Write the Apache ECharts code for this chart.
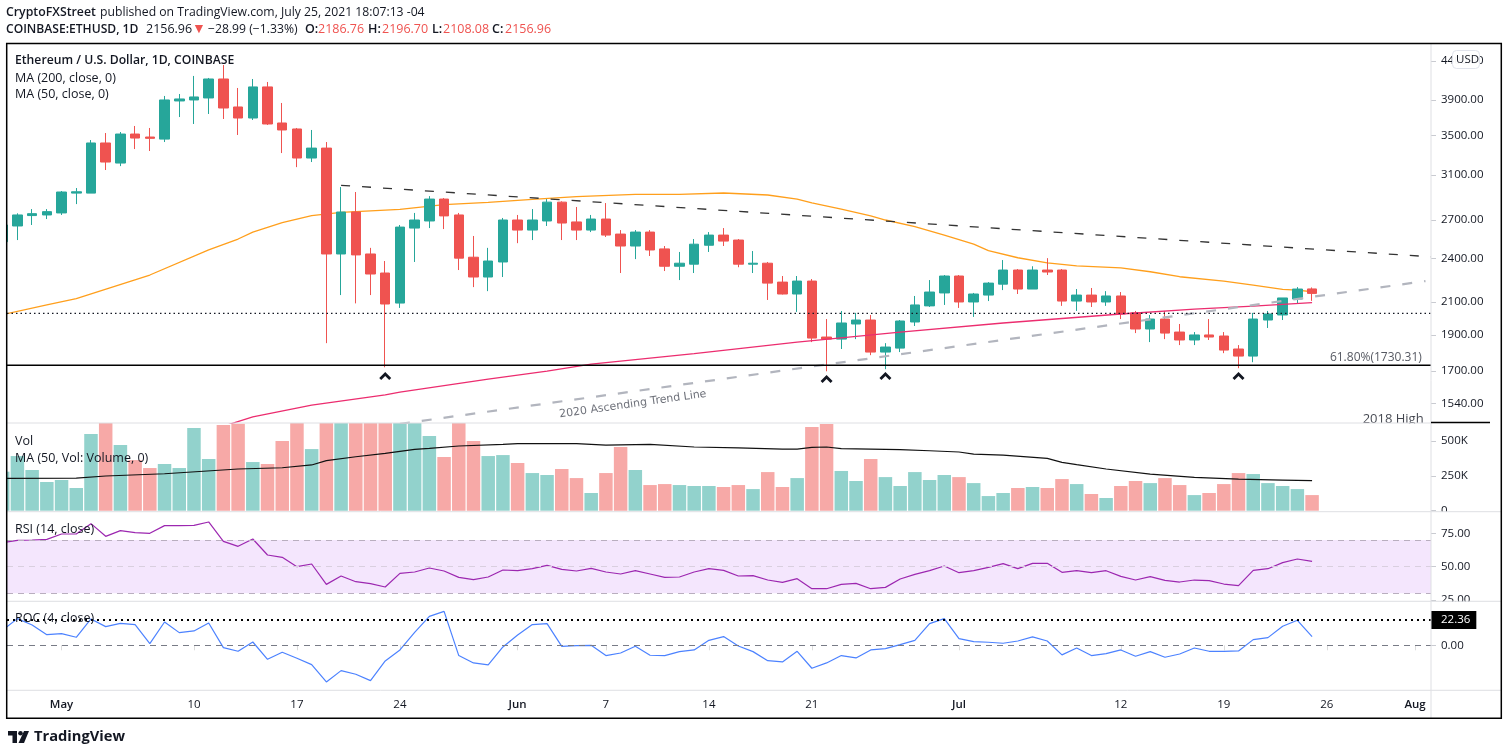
<!DOCTYPE html>
<html>
<head>
<meta charset="utf-8">
<title>ETHUSD</title>
<script src="https://cdn.jsdelivr.net/npm/echarts@6/dist/echarts.min.js"></script>
<style>
  html, body { margin: 0; padding: 0; background: #fff; }
  #chart { width: 1508px; height: 755px; }
</style>
</head>
<body>
<div id="chart"></div>
<script>
// daily candles, Apr 27 -> Jul 25 2021
const opens = [2527,2652,2738,2743,
  2760,2933,2933,3420,3216,3515,3483,3461,3890,3902,3926,4161,3819,3692,4061,3636,3570,3266,3367,2434,2768,2434,2296,2094,2635,2693,2880,2743,2410,2268,2375,
  2701,2619,2693,2853,2685,2619,2709,2587,2494,2603,2472,2344,2359,2500,2579,2540,2359,2366,2233,2153,2240,1887,1875,1964,1988,1802,1824,1976,2076,2160,
  2275,2101,2146,2219,2317,2186,2317,2317,2107,2146,2101,2140,2032,1934,1994,1916,1870,1899,1893,1819,1780,1988,2019,2120,2186.76];
const closes = [2660,2743,2754,2771,
  2943,2945,3420,3226,3515,3472,3469,3902,3914,3938,4161,3807,3692,4061,3625,3559,3266,3367,2434,2768,2427,2289,2088,2643,2701,2880,2735,2403,2268,2382,2701,
  2619,2701,2853,2676,2619,2709,2579,2494,2603,2464,2344,2366,2508,2579,2532,2359,2366,2226,2153,2240,1881,1875,1970,1988,1802,1830,1982,2082,2166,2275,
  2101,2153,2226,2317,2186,2317,2303,2107,2146,2101,2140,2025,1934,1994,1910,1870,1899,1887,1813,1780,1994,2025,2127,2186,2156.96];
const lows = [2527,2540,2660,2709,
  2743,2836,2933,3148,3186,3357,3337,3430,3703,3625,3738,3681,3505,3670,3614,3316,3176,3226,1852,2146,2092,2146,1720,2063,2375,2635,2627,2317,2199,2172,2268,
  2516,2540,2652,2540,2540,2603,2564,2296,2396,2419,2310,2247,2296,2449,2494,2337,2296,2114,2150,2038,1858,1699,1819,1875,1785,1710,1802,1952,2069,2082,
  2063,2007,2107,2179,2153,2186,2282,2076,2044,2069,2076,1994,1910,1858,1875,1841,1841,1870,1796,1715,1747,1940,1988,2094,2108.08];
const highs = [2670,2757,2793,2793,
  2952,2979,3451,3526,3537,3603,3581,3950,3974,4200,4174,4343,4048,4161,4123,3866,3581,3559,3430,2988,2943,2480,2382,2660,2760,2906,2889,2760,2572,2480,2718,
  2743,2793,2880,2860,2811,2743,2845,2619,2619,2619,2494,2449,2548,2603,2635,2548,2456,2375,2275,2275,2254,1994,2044,2032,2019,1852,1988,2140,2247,2282,
  2282,2160,2233,2389,2324,2344,2403,2324,2186,2193,2172,2166,2044,2019,2044,1964,1916,1994,1916,1841,2032,2044,2127,2199,2196.70];

// volume in thousands (the tall ones are cut by the pane, top is a guess)
const volumes = [280,392,292,206,
  220,163,550,650,471,363,306,335,306,593,371,614,624,349,335,500,650,442,900,800,900,800,750,700,650,536,385,650,500,392,399,
  342,270,256,299,234,127,270,457,292,184,191,184,177,177,170,184,155,277,170,234,600,622,285,213,371,241,177,277,220,256,
  241,198,105,127,163,170,163,227,191,120,91,177,213,198,234,184,112,127,191,270,263,198,177,155,112];

const rsiValues = [68,69.75,70,70.5,
  74.5,74.5,82.25,72.75,77,75.5,75,80.75,80.75,81,83.5,69,65.25,70.75,58.75,57,50,52,36.75,43,38.75,37.25,34.75,45,46,49,46.75,42,40.25,42.25,47.5,
  47,48.5,51,48,46.75,48.75,46,44.5,47,44.5,42,42.25,46,48.5,47.25,43,43.25,40,38.25,41,33.5,33.5,36.75,37.5,33.5,34.5,40.75,44.25,47,50.5,
  45.5,47,49.5,52.25,48.5,52.5,52.5,45.75,47,45.5,47,42.75,40,42.5,39.75,38.5,40,39.5,37,35.75,47.25,48.5,53,55.75,54];

const rocValues = [13.5,23.6,18,9.4,
  10.3,7.1,23.3,16.5,19.4,18.3,1.5,20.6,11.2,12.7,19.7,-2.1,-5.3,2.9,-12.4,-6.2,-11.5,-17.1,-32.4,-22.4,-25.6,-31.2,-13.8,-4.1,11.5,25.6,30,-9.1,-15.6,-17.4,-1.5,
  9.1,18.3,19.2,-0.9,-0.3,0,-9.1,-6.8,-0.9,-8.8,-9.1,-5.6,-4.1,4.4,7.7,-0.6,-5.6,-13.6,-14.7,-5.3,-20.3,-15.6,-9.1,-11.2,-4.1,-2.9,0.6,4.4,19.2,23.6,
  5.9,3.2,2.7,1.8,3.8,7.4,3.8,-8.5,-2.4,-9.1,-7.4,-4.1,-9.7,-5.6,-10.6,-7.7,-2.4,-5.3,-5.3,-5,5,6.8,16.8,22.1,7.7];

// moving averages, read at the days where the curve bends
const ma50 = [['04-27',2021],['04-30',2082],['05-02',2122],['05-07',2282],['05-11',2464],['05-13',2548],['05-14',2603],['05-16',2679],['05-18',2738],['05-20',2765],
  ['05-24',2790],['05-27',2832],['05-30',2851],['06-02',2877],['06-05',2901],['06-09',2922],['06-12',2922],['06-15',2934],['06-18',2916],['06-20',2880],['06-21',2847],
  ['06-23',2793],['06-25',2735],['06-26',2701],['06-28',2646],['06-30',2579],['07-02',2508],['07-03',2459],['07-05',2406],['07-07',2368],['07-09',2347],['07-12',2332],
  ['07-14',2305],['07-16',2270],['07-19',2240],['07-21',2212],['07-23',2184],['07-24',2179],['07-25',2168]];
const ma200 = [['05-12',1436],['05-14',1477],['05-18',1532],['05-23',1580],['05-24',1594],['05-30',1659],['06-03',1700],['06-06',1737],['06-13',1794],['06-20',1858],
  ['06-27',1916],['07-04',1970],['07-12',2025],['07-17',2056],['07-21',2075],['07-25',2097]];
const volMa50 = [['04-27',232],['05-02',234],['05-04',249],['05-08',265],['05-13',299],['05-16',308],['05-18',328],['05-19',359],['05-21',387],['05-23',411],['05-25',440],
  ['05-26',447],['05-28',464],['05-31',476],['06-01',481],['06-05',481],['06-07',471],['06-10',476],['06-13',457],['06-16',451],['06-19',442],['06-20',442],['06-21',454],
  ['06-22',457],['06-23',445],['06-27',438],['06-29',430],['07-01',421],['07-02',406],['07-04',399],['07-07',375],['07-08',347],['07-09',330],['07-11',299],['07-14',263],
  ['07-17',239],['07-20',226],['07-23',220],['07-25',215]];

// drawn lines and levels
const resistance = [['05-20',3004],['08-02T02',2413]];
const ascending = [['05-24',1446],['08-01T17',2240]];
const fibLevel = 1730.31;
const dottedLevel = 2029;
const rocLevel = 22.36;
const chevrons = [['05-23',1674],['06-22',1659],['06-26',1674],['07-20',1674]];

const priceTicks = [1540,1700,1900,2100,2400,2700,3100,3500,3900,4400];
const volTicks = [0,250,500];
const rsiTicks = [25,50,75];
const rocTicks = [0];
const xTickDates = ['05-01','05-10','05-17','05-24','06-01','06-07','06-14','06-21','07-01','07-12','07-19','07-26','08-01'];
const xTickLabels = ['May','10','17','24','Jun','7','14','21','Jul','12','19','26','Aug'];

const UP = '#26a69a', DOWN = '#ef5350', INK = '#131722';
const FONT = '"Open Sans", sans-serif';

function ts(s) {
  return Date.parse('2021-' + s + (s.includes('T') ? ':00:00Z' : 'T00:00:00Z'));
}
const xMin = ts('04-27T07');
const xMax = ts('08-02T02');
const days = opens.map((_, i) => Date.UTC(2021, 3, 27 + i));
const pairs = list => list.map(p => [ts(p[0]), p[1]]);
const xTicks = xTickDates.map(ts);

const candleData = days.map((d, i) => [d, opens[i], closes[i], lows[i], highs[i]]);
const volData = days.map((d, i) => ({
  value: [d, volumes[i]],
  itemStyle: { color: closes[i] >= opens[i] ? '#92d2cc' : '#f7a9a7' }
}));

// panes
const panes = [
  { top: 43.5, bottom: 423 },
  { top: 423, bottom: 510.7 },
  { top: 511.7, bottom: 601.3 },
  { top: 601.3, bottom: 690.3 }
];
const grid = panes.map(p => ({ left: 7, width: 1424, top: p.top, height: p.bottom - p.top }));

const xAxis = panes.map((p, i) => ({
  type: 'value', gridIndex: i, min: xMin, max: xMax, scale: true,
  splitLine: { show: false }, axisLine: { show: false },
  axisTick: i === 3 ? { show: true, length: 5, lineStyle: { color: '#dcdcdc' }, customValues: xTicks } : { show: false },
  axisLabel: i === 3 ? {
    show: true, customValues: xTicks, margin: 8, hideOverlap: false, showMinLabel: true, showMaxLabel: true,
    color: INK, fontFamily: FONT, fontSize: 11.5,
    formatter: v => {
      const t = xTickLabels[xTicks.indexOf(v)] || '';
      return /[A-Z]/.test(t) ? '{m|' + t + '}' : t;
    },
    rich: { m: { fontWeight: 600, fontFamily: FONT, fontSize: 11.5, color: INK } }
  } : { show: false }
}));

function yAx(i, opt, ticks, fmt) {
  return Object.assign({
    gridIndex: i, position: 'right', scale: true,
    splitLine: { show: false }, axisLine: { show: false },
    axisTick: { show: true, length: 5, lineStyle: { color: '#c9cbd1' }, customValues: ticks },
    axisLabel: { customValues: ticks, margin: 10, padding: [2, 0, 0, 0], color: INK, fontFamily: FONT, fontSize: 11.5, formatter: fmt, hideOverlap: false }
  }, opt);
}
const yAxis = [
  yAx(0, { type: 'log', logBase: 10, min: 1450, max: 4639 }, priceTicks, v => v.toFixed(2)),
  yAx(1, { type: 'value', min: 0, max: 629 }, volTicks, v => (v === 0 ? '0' : v + 'K')),
  yAx(2, { type: 'value', min: 24.06, max: 91.2 }, rsiTicks, v => v.toFixed(2)),
  yAx(3, { type: 'value', min: -39.8, max: 38.9 }, rocTicks, v => v.toFixed(2))
];

function line(name, pane, data, color, width, type, z) {
  return {
    name, type: 'line', xAxisIndex: pane, yAxisIndex: pane, data,
    symbol: 'none', smooth: false, silent: true, z: z || 3,
    lineStyle: { color, width, type: type || 'solid' }
  };
}
function note(text, date, price, position, extra) {
  return {
    type: 'scatter', xAxisIndex: 0, yAxisIndex: 0, symbolSize: 0, silent: true, z: 6,
    data: [[ts(date), price]],
    label: Object.assign({
      show: true, formatter: text, position, distance: 0, color: INK, fontFamily: FONT, fontSize: 12
    }, extra)
  };
}

const series = [
  line('MA50', 0, pairs(ma50), '#ff9f1c', 1.3, 'solid', 1),
  {
    name: 'ETHUSD', type: 'candlestick', xAxisIndex: 0, yAxisIndex: 0, data: candleData,
    encode: { x: 0, y: [1, 2, 3, 4] },
    barWidth: 10, z: 2, silent: true,
    itemStyle: { color: UP, color0: DOWN, borderColor: UP, borderColor0: DOWN, borderWidth: 1 }
  },
  line('MA200', 0, pairs(ma200), '#ec2d6f', 1.3),
  line('Resistance', 0, pairs(resistance), '#333', 1.3, [9, 12], 4),
  line('Ascending', 0, pairs(ascending), '#b2b5be', 2.2, [10, 12], 4),
  line('Fib', 0, [[xMin, fibLevel], [xMax, fibLevel]], '#000', 1.5, 'solid', 4),
  line('Level', 0, [[xMin, dottedLevel], [xMax, dottedLevel]], '#131722', 1.2, [1.5, 3], 4),
  {
    type: 'scatter', xAxisIndex: 0, yAxisIndex: 0, silent: true, z: 5,
    data: pairs(chevrons),
    symbol: 'path://M0,6 L6,0 L12,6 L10,8 L6,4 L2,8 Z', symbolSize: [12, 8],
    itemStyle: { color: '#131722', opacity: 1 }
  },
  note('2020 Ascending Trend Line', '06-08T20', 1536, 'inside', { rotate: 8, color: '#4a4e59', fontFamily: '"DejaVu Sans", sans-serif', fontSize: 11 }),
  note('61.80%(1730.31)', '08-01T11', 1771, 'left', { color: '#2a2e39', fontSize: 12 }),
  note('2018 High', '08-01T14', 1468, 'left', { color: '#131722', fontSize: 13 }),
  {
    name: 'Volume', type: 'bar', xAxisIndex: 1, yAxisIndex: 1, data: volData,
    barWidth: 13.5, silent: true, z: 2
  },
  line('Vol MA', 1, pairs(volMa50), '#111', 1.2),
  {
    name: 'RSI', type: 'line', xAxisIndex: 2, yAxisIndex: 2, silent: true, symbol: 'none',
    data: days.map((d, i) => [d, rsiValues[i]]),
    lineStyle: { color: '#9c27b0', width: 1.2 },
    markArea: { silent: true, itemStyle: { color: '#f4e6fd' }, data: [[{ yAxis: 30 }, { yAxis: 70 }]] },
    markLine: {
      silent: true, symbol: 'none', label: { show: false },
      lineStyle: { color: '#b9aebf', type: [6, 5], width: 1 },
      data: [{ yAxis: 70 }, { yAxis: 50, lineStyle: { color: '#d9cfdf' } }, { yAxis: 30 }]
    }
  },
  {
    name: 'ROC', type: 'line', xAxisIndex: 3, yAxisIndex: 3, silent: true, symbol: 'none',
    data: days.map((d, i) => [d, rocValues[i]]),
    lineStyle: { color: '#4c82ff', width: 1.2 },
    markLine: {
      silent: true, symbol: 'none',
      data: [
        { yAxis: 0, label: { show: false }, lineStyle: { color: '#787b86', type: [6, 5], width: 1 } },
        {
          yAxis: rocLevel,
          lineStyle: { color: '#000', type: [2, 4], width: 2 },
          label: {
            show: true, position: 'end', distance: 0, formatter: rocLevel.toFixed(2), color: '#fff',
            backgroundColor: '#000', fontFamily: FONT, fontSize: 11.5, padding: [3, 6, 3, 10]
          }
        }
      ]
    }
  }
];

// page furniture: frame, pane separators, titles
function txt(x, y, text, color, weight, size, verticalAlign) {
  return {
    type: 'text', z: 50, silent: true, x, y,
    style: { text, fill: color || INK, font: (weight || 400) + ' ' + (size || 12.5) + 'px ' + FONT, verticalAlign: verticalAlign || 'middle' }
  };
}
function rule(x1, y1, x2, y2, color, width, z) {
  return { type: 'line', z: z || 40, silent: true, shape: { x1, y1, x2, y2 }, style: { stroke: color, lineWidth: width || 1 } };
}
function cover(x, y, w, h) {
  return { type: 'rect', z: 30, silent: true, shape: { x, y, width: w, height: h }, style: { fill: '#fff' } };
}

const graphic = [
  // first candle and bar hang over the left edge of the frame
  cover(0, 43, 6.5, 676),
  // labels that the pane borders cut off
  cover(1355, 423.5, 76, 9),
  cover(1433, 512, 66, 8),
  cover(1433, 602, 40, 8),
  rule(7, 423, 1431, 423, '#dedfe3'),
  rule(7, 511.7, 1501, 511.7, '#dedfe3'),
  rule(7, 601.3, 1501, 601.3, '#dedfe3'),
  rule(7, 690.3, 1501, 690.3, '#dedfe3'),
  rule(1431, 43, 1431, 718, '#dedfe3'),
  rule(1431, 422.5, 1490, 422.5, '#000', 1.5),
  { type: 'rect', z: 60, silent: true, shape: { x: 6.7, y: 43.5, width: 1494.6, height: 674.8 }, style: { fill: 'none', stroke: '#000', lineWidth: 1.5 } },
  // usd badge
  { type: 'rect', z: 45, silent: true, shape: { x: 1452.5, y: 50.5, width: 27, height: 18, r: 4 }, style: { fill: 'rgba(255,255,255,0.95)', stroke: '#e0e3eb', lineWidth: 1 } },
  txt(1456, 60, 'USD', INK, 400, 11.5),
  // header
  txt(6, 12.5, 'CryptoFXStreet', INK, 600, 12.3),
  txt(100, 12.5, 'published on TradingView.com, July 25, 2021 18:07:13 -04', INK, 400, 12.2),
  txt(6, 29.5, 'COINBASE:ETHUSD, 1D', INK, 600, 12.1),
  txt(146, 29.5, '2156.96', INK, 400, 12.5),
  txt(192, 29.5, '▼', DOWN, 400, 14),
  txt(208, 29.5, '−28.99 (−1.33%)', INK, 400, 12.2),
  txt(305, 29.5, 'O:', INK, 600, 12.5), txt(318, 29.5, '2186.76', DOWN, 400, 12.5),
  txt(368, 29.5, 'H:', INK, 600, 12.5), txt(382, 29.5, '2196.70', DOWN, 400, 12.5),
  txt(432, 29.5, 'L:', INK, 600, 12.5), txt(443, 29.5, '2108.08', DOWN, 400, 12.5),
  txt(492, 29.5, 'C:', INK, 600, 12.5), txt(505, 29.5, '2156.96', DOWN, 400, 12.5),
  // pane legends
  txt(15, 60.5, 'Ethereum / U.S. Dollar, 1D, COINBASE', INK, 600, 12.2),
  txt(15, 78, 'MA (200, close, 0)'),
  txt(15, 94.5, 'MA (50, close, 0)'),
  txt(15, 441, 'Vol'),
  txt(15, 458, 'MA (50, Vol: Volume, 0)'),
  txt(15, 529.5, 'RSI (14, close)'),
  txt(15, 618.5, 'ROC (4, close)'),
  // footer logo
  { type: 'polygon', z: 50, silent: true, shape: { points: [[8, 731], [17, 731], [17, 743], [12.5, 743], [12.5, 735.5], [8, 735.5]] }, style: { fill: INK } },
  { type: 'circle', z: 50, silent: true, shape: { cx: 20.5, cy: 733.3, r: 2.3 }, style: { fill: INK } },
  { type: 'polygon', z: 50, silent: true, shape: { points: [[24, 731], [29, 731], [24, 743], [18.5, 743]] }, style: { fill: INK } },
  txt(34, 737, 'TradingView', INK, 700, 14.7)
];

const chart = echarts.init(document.getElementById('chart'), null, { renderer: 'canvas' });
chart.setOption({
  animation: false,
  backgroundColor: '#fff',
  grid, xAxis, yAxis, series, graphic,
  tooltip: { show: false },
  legend: { show: false }
});
</script>
</body>
</html>
